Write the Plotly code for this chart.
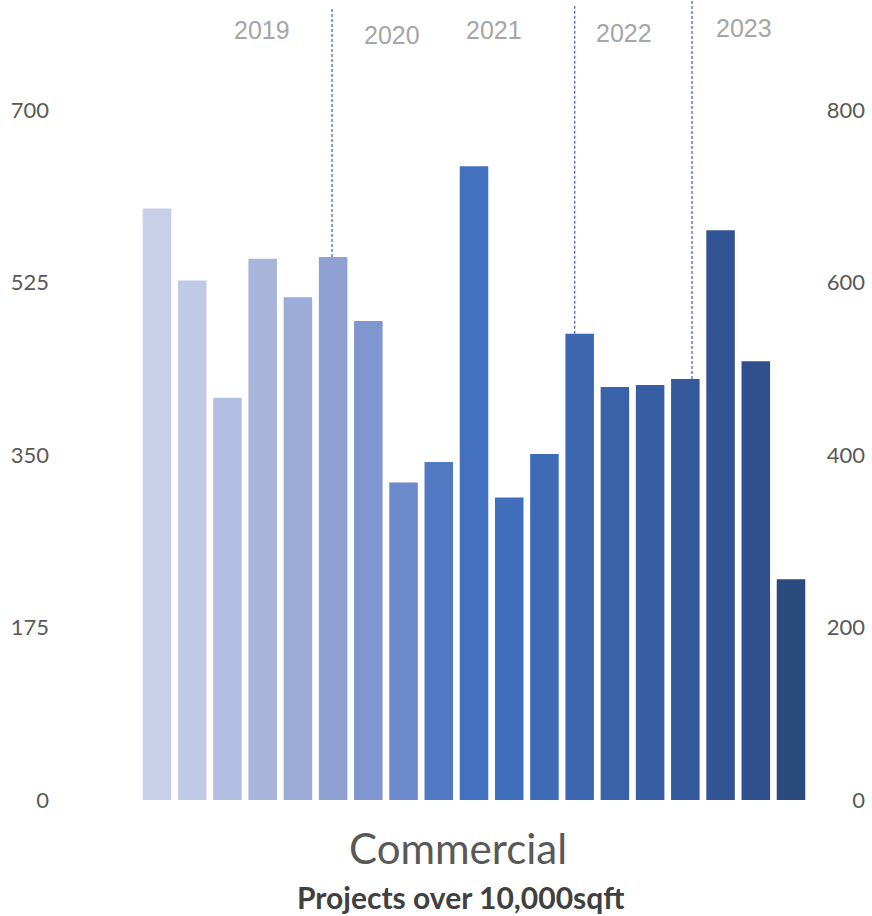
import plotly.graph_objects as go

# Periodic counts of commercial projects (left axis scale)
periods = list(range(19))
project_counts = [600, 527, 408, 549, 510, 551, 486, 322, 343, 643,
                  307, 351, 473, 419, 421, 427, 578, 445, 224]

# Year markers shown across the top
year_labels = ["2019", "2020", "2021", "2022", "2023"]

# Year-boundary drop lines: which bar they sit on
drop_line_bars = [5, 12, 15]

# --- styling / layout helpers (not data) ---
bar_colors = ["#C9CFE8", "#C0C9E5", "#B3BFE2", "#A7B5DA", "#9BACD8",
              "#8FA1D2", "#7F96CF", "#6C89CB", "#527AC4", "#4470C0",
              "#416EBB", "#3E6BB5", "#3D67AF", "#3A62A9", "#375DA3",
              "#34599D", "#325495", "#2F508D", "#2B4A7D"]
year_label_x = [2.98, 6.67, 9.57, 13.26, 16.66]
year_label_y = [0.9632, 0.9571, 0.9632, 0.9596, 0.9657]
drop_line_offset = [-0.03, -0.14, 0.19]
drop_line_top = [803.5, 805.5, 811.6]

left_range = [-16.23, 811.6]
right_range = [-16.23 * 800 / 700, 811.6 * 800 / 700]

fig = go.Figure()

fig.add_trace(go.Bar(
    x=periods,
    y=project_counts,
    marker=dict(color=bar_colors, line=dict(width=0)),
    showlegend=False,
    hoverinfo="y",
))

# Invisible trace so the secondary (right) axis is drawn
fig.add_trace(go.Scatter(
    x=[periods[0]], y=[0], yaxis="y2", mode="markers",
    marker=dict(opacity=0), showlegend=False, hoverinfo="skip",
))

for idx, off, top in zip(drop_line_bars, drop_line_offset, drop_line_top):
    fig.add_trace(go.Scatter(
        x=[periods[idx] + off, periods[idx] + off],
        y=[project_counts[idx], top],
        mode="lines",
        line=dict(color="#3A60BC", width=1.2, dash="3px,2px"),
        showlegend=False, hoverinfo="skip", cliponaxis=False,
    ))

for label, lx, ly in zip(year_labels, year_label_x, year_label_y):
    fig.add_annotation(
        x=lx, y=ly, xref="x", yref="paper", text=label, showarrow=False,
        font=dict(family="Liberation Sans, Arial", size=25, color="#A6A6A6"),
        xanchor="center", yanchor="middle",
    )

fig.add_annotation(
    x=0.4957, y=-0.0392, xref="paper", yref="paper", text="Commercial",
    showarrow=False, xanchor="center", yanchor="middle",
    font=dict(family="Lato", size=42, color="#595959"),
)
fig.add_annotation(
    x=0.4994, y=-0.0993, xref="paper", yref="paper",
    text="<b>Projects over 10,000sqft</b>",
    showarrow=False, xanchor="center", yanchor="middle",
    font=dict(family="Lato", size=30, color="#404040"),
)

tick_font = dict(family="Lato", size=22, color="#595959")

fig.update_layout(
    width=872, height=916,
    margin=dict(l=55, r=4, t=0, b=100),
    paper_bgcolor="white", plot_bgcolor="white",
    bargap=0.19,
    xaxis=dict(range=[-2.896, 20.186], showticklabels=False, showgrid=False,
               zeroline=False, showline=False, ticks=""),
    yaxis=dict(range=left_range, tickvals=[0, 175, 350, 525, 700],
               showgrid=False, zeroline=False, showline=False, ticks="",
               ticklabelstandoff=5, tickfont=tick_font),
    yaxis2=dict(range=right_range, tickvals=[0, 200, 400, 600, 800],
                overlaying="y", side="right", anchor="free", position=1,
                ticklabelposition="inside",
                showgrid=False, zeroline=False, showline=False, ticks="",
                tickfont=tick_font),
)

fig.write_html("out.html")
